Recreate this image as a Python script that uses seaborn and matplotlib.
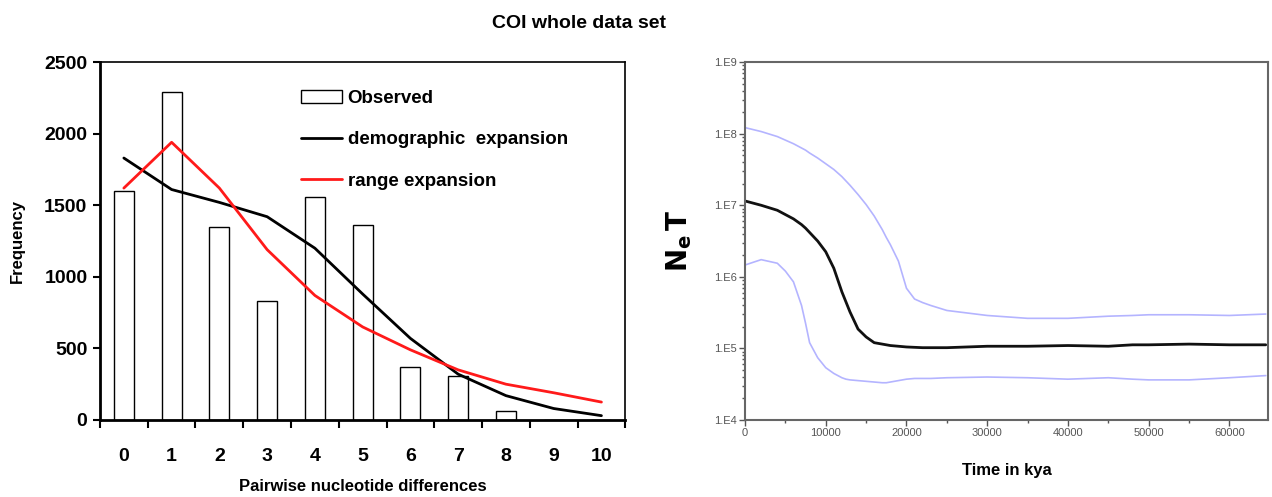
import numpy as np
import pandas as pd
import matplotlib
matplotlib.use("Agg")
import matplotlib.pyplot as plt
from matplotlib.ticker import FixedLocator, LogLocator, NullFormatter, MultipleLocator
from matplotlib.patches import Patch
from matplotlib.lines import Line2D
import seaborn as sns

# ---- data: mismatch distribution ----
differences = [0, 1, 2, 3, 4, 5, 6, 7, 8, 9, 10]
observed = [1600, 2290, 1350, 830, 1560, 1360, 370, 310, 60, 0, 0]
demographic = [1830, 1610, 1520, 1420, 1200, 880, 570, 320, 170, 80, 30]
range_exp = [1620, 1940, 1620, 1190, 870, 650, 490, 350, 250, 190, 125]

# ---- data: Bayesian skyline (log10 NeT) ----
time_kya = [0, 2000, 4000, 5000, 6000, 7000, 7500, 8000, 9000, 10000, 11000, 12000, 12500, 13000,
            14000, 15000, 16000, 17000, 17500, 18000, 19000, 20000, 21000, 22000, 23000, 25000,
            30000, 35000, 40000, 45000, 48000, 50000, 55000, 60000, 64500]
median_log = [7.06, 7.00, 6.93, 6.87, 6.81, 6.73, 6.68, 6.62, 6.50, 6.35, 6.12, 5.79, 5.65, 5.51,
              5.27, 5.16, 5.08, 5.06, 5.05, 5.04, 5.03, 5.02, 5.015, 5.01, 5.01, 5.01,
              5.03, 5.03, 5.04, 5.03, 5.05, 5.05, 5.06, 5.05, 5.05]
upper_log = [8.085, 8.03, 7.96, 7.91, 7.86, 7.80, 7.77, 7.73, 7.66, 7.58, 7.50, 7.40, 7.34, 7.28,
             7.15, 7.01, 6.85, 6.66, 6.55, 6.45, 6.22, 5.84, 5.69, 5.64, 5.60, 5.53,
             5.46, 5.42, 5.42, 5.45, 5.46, 5.47, 5.47, 5.46, 5.48]
lower_log = [6.165, 6.24, 6.19, 6.08, 5.93, 5.60, 5.35, 5.08, 4.87, 4.73, 4.65, 4.59, 4.57, 4.56,
             4.55, 4.54, 4.53, 4.52, 4.52, 4.53, 4.55, 4.57, 4.58, 4.58, 4.58, 4.59,
             4.60, 4.59, 4.57, 4.59, 4.57, 4.56, 4.56, 4.59, 4.62]

sns.set_theme(style="white")
plt.rcParams['font.family'] = ['Liberation Sans', 'DejaVu Sans']
plt.rcParams['text.color'] = 'black'
plt.rcParams['axes.labelcolor'] = 'black'
plt.rcParams['xtick.color'] = 'black'
plt.rcParams['ytick.color'] = 'black'

fig = plt.figure(figsize=(12.72, 4.97), dpi=100)
ax1 = fig.add_axes([0.0786, 0.155, 0.413, 0.720])
ax2 = fig.add_axes([0.5857, 0.155, 0.4113, 0.720])

fig.text(0.455, 0.952, "COI whole data set", ha="center", va="center",
         fontsize=14, fontweight="bold", color="black")

# ---- left panel ----
df = pd.DataFrame({"diff": differences, "obs": observed})
sns.barplot(data=df, x="diff", y="obs", order=differences, color="white",
            edgecolor="black", linewidth=1.0, width=0.42, ax=ax1, saturation=1)
sns.lineplot(x=differences, y=demographic, color="black", linewidth=2, ax=ax1)
sns.lineplot(x=differences, y=range_exp, color="#ff1a1a", linewidth=2, ax=ax1)
ax1.set_xlim(-0.5, 10.5)
ax1.set_ylim(0, 2500)
ax1.set_yticks([0, 500, 1000, 1500, 2000, 2500])
ax1.set_xticks(differences)
ax1.set_xticklabels([str(d) for d in differences], fontsize=14, fontweight="bold")
ax1.xaxis.set_minor_locator(FixedLocator(np.arange(-0.5, 11, 1)))
ax1.tick_params(axis="x", which="major", length=0, pad=20)
ax1.tick_params(axis="x", which="minor", length=6, width=1.5, direction="out", bottom=True)
ax1.tick_params(axis="y", which="major", length=5, width=1.5, direction="out", left=True,
                labelsize=14, pad=4)
for lab in ax1.get_yticklabels():
    lab.set_fontweight("bold")
for s in ax1.spines.values():
    s.set_color("black")
    s.set_linewidth(1.2)
ax1.spines["left"].set_linewidth(2)
ax1.spines["bottom"].set_linewidth(2)
ax1.set_xlabel("Pairwise nucleotide differences", fontsize=12, fontweight="bold", labelpad=10)
ax1.set_ylabel("Frequency", fontsize=12, fontweight="bold", labelpad=14)
handles = [Patch(facecolor="white", edgecolor="black", linewidth=1.0),
           Line2D([0], [0], color="black", linewidth=2),
           Line2D([0], [0], color="#ff1a1a", linewidth=2)]
ax1.legend(handles, ["Observed", "demographic  expansion", "range expansion"],
           loc="upper left", bbox_to_anchor=(0.35, 0.97), frameon=False,
           prop={"size": 13.5, "weight": "bold"}, handlelength=2.2, handletextpad=0.3,
           labelspacing=1.3)

# ---- right panel ----
t = np.array(time_kya)
sky = pd.DataFrame({
    "time": np.concatenate([t, t, t]),
    "NeT": np.concatenate([10 ** np.array(upper_log), 10 ** np.array(median_log),
                           10 ** np.array(lower_log)]),
    "band": ["upper"] * len(t) + ["median"] * len(t) + ["lower"] * len(t),
})
sns.lineplot(data=sky, x="time", y="NeT", hue="band", ax=ax2,
             palette={"upper": "#b4b4ff", "median": "#111111", "lower": "#b4b4ff"},
             linewidth=1.2, legend=False)
for ln in ax2.get_lines():
    if ln.get_color() in ("#111111",):
        ln.set_linewidth(2)
ax2.set_yscale("log")
ax2.set_ylim(1e4, 1e9)
ax2.set_xlim(0, 64800)
ax2.set_yticks([1e4, 1e5, 1e6, 1e7, 1e8, 1e9])
ax2.set_yticklabels(["1.E4", "1.E5", "1.E6", "1.E7", "1.E8", "1.E9"])
ax2.yaxis.set_minor_locator(LogLocator(base=10, subs=np.arange(2, 10)))
ax2.yaxis.set_minor_formatter(NullFormatter())
ax2.xaxis.set_major_locator(MultipleLocator(10000))
ax2.xaxis.set_minor_locator(MultipleLocator(5000))
ax2.tick_params(axis="both", which="major", length=4, width=1, direction="out",
                left=True, bottom=True, labelsize=8, labelcolor="#555555", color="#555555", pad=2)
ax2.tick_params(axis="both", which="minor", length=2.5, width=1, direction="out",
                left=True, bottom=True, color="#555555")
for s in ax2.spines.values():
    s.set_color("#666666")
    s.set_linewidth(1.5)
ax2.set_xlabel("Time in kya", fontsize=12, fontweight="bold", labelpad=18)
ax2.set_ylabel(r"$\mathbf{N_e\,T}$", fontsize=20, labelpad=14, color="black")

fig.savefig("out.png", dpi=100)
